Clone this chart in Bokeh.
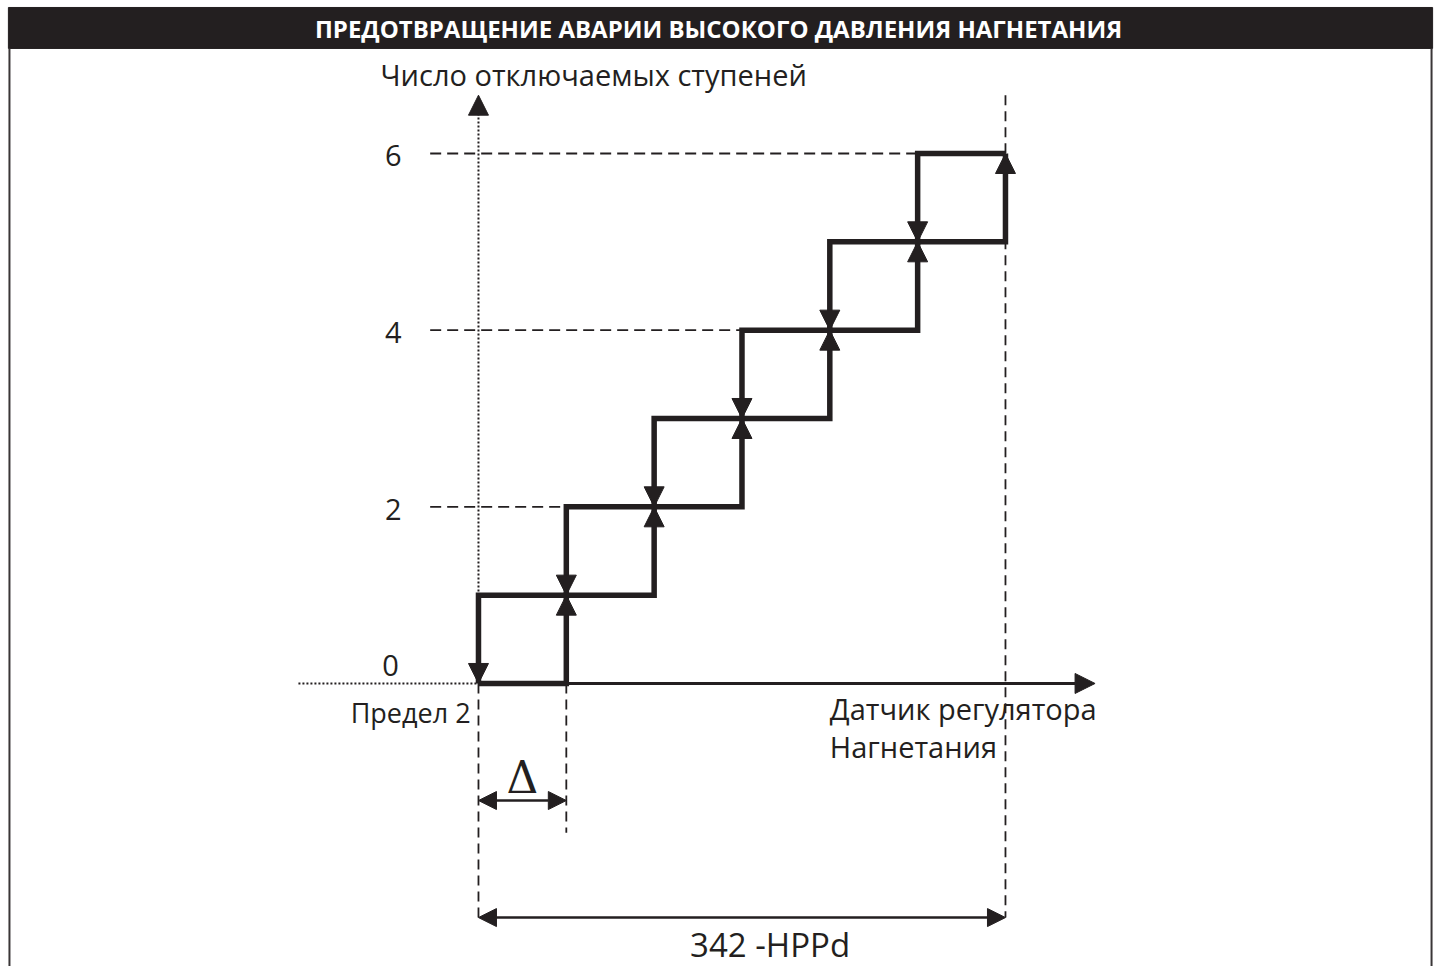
from bokeh.plotting import figure
from bokeh.models import Range1d, Arrow, NormalHead, ColumnDataSource
from bokeh.core.properties import value
from bokeh.embed import file_html
from bokeh.resources import INLINE

# ---------------- data ----------------
TITLE = "ПРЕДОТВРАЩЕНИЕ АВАРИИ ВЫСОКОГО ДАВЛЕНИЯ НАГНЕТАНИЯ"
Y_LABEL = "Число отключаемых ступеней"
X_LABEL = ["Датчик регулятора", "Нагнетания"]
LIMIT_LABEL = "Предел 2"
DELTA_LABEL = "Δ"
SPAN_LABEL = "342 -HPPd"
STAGES = [0, 1, 2, 3, 4, 5, 6]          # number of stages switched off
Y_TICKS = [0, 2, 4, 6]
Y_TICK_LABELS = ["0", "2", "4", "6"]
DELTA = 1                                # width of one step (Δ)

# ---------------- layout constants ----------------
INK = "#231f20"
FONT = "Open Sans"
X_AXIS_LEFT, X_AXIS_END = -2.05, 7.02
Y_AXIS_END = 6.66
GUIDE_LEFT = -0.55
DELTA_ARROW_Y = -1.325
SPAN_ARROW_Y = -2.65
FRAME_L, FRAME_R, HEAD_TOP, HEAD_BOT = -5.34, 10.851, 7.653, 7.189

p = figure(width=1435, height=966, output_backend="svg", toolbar_location=None,
           x_range=Range1d(-5.442, 10.896), y_range=Range1d(-3.204, 7.732),
           min_border=0, background_fill_color="white", border_fill_color="white")
p.axis.visible = False
p.grid.visible = False
p.outline_line_color = None

# header bar and frame
p.quad(left=[FRAME_L - 0.012], right=[FRAME_R + 0.012], top=[HEAD_TOP], bottom=[HEAD_BOT],
       fill_color=INK, line_color=INK)
p.segment(x0=[FRAME_L, FRAME_R], y0=[HEAD_BOT, HEAD_BOT], x1=[FRAME_L, FRAME_R], y1=[-4, -4],
          line_color="#3a3637", line_width=2)
p.text(x=[2.733], y=[7.415], text=[TITLE], text_color="white", text_font=value(FONT),
       text_font_style="bold", text_font_size="24px", text_align="center", text_baseline="middle")

top = STAGES[-1]
xmax = top * DELTA

# dashed guides at tick levels
for t in Y_TICKS[1:]:
    p.line(x=[GUIDE_LEFT, (t - 1) * DELTA], y=[t, t], line_color=INK, line_width=1.8, line_dash="11 6")

# vertical dashed lines
p.line(x=[0, 0], y=[0, SPAN_ARROW_Y], line_color=INK, line_width=1.8, line_dash="10 6")
p.line(x=[DELTA, DELTA], y=[0, -1.69], line_color=INK, line_width=1.8, line_dash="10 6")
p.line(x=[xmax, xmax], y=[Y_AXIS_END, SPAN_ARROW_Y], line_color=INK, line_width=1.8, line_dash="10 6")

# axes
p.line(x=[X_AXIS_LEFT, 0], y=[0, 0], line_color=INK, line_width=2, line_dash="2 2")
p.line(x=[0, 0], y=[0, Y_AXIS_END - 0.2], line_color=INK, line_width=2, line_dash="2 2")
p.add_layout(Arrow(end=NormalHead(size=20, fill_color=INK, line_color=INK),
                   x_start=0, y_start=Y_AXIS_END - 0.3, x_end=0, y_end=Y_AXIS_END,
                   line_alpha=0))
p.add_layout(Arrow(end=NormalHead(size=20, fill_color=INK, line_color=INK),
                   x_start=DELTA, y_start=0, x_end=X_AXIS_END, y_end=0,
                   line_color=INK, line_width=3))

# staircase (hysteresis)
up_x, up_y, dn_x, dn_y = [], [], [], []
for k in STAGES[:-1]:
    up_x += [k * DELTA, (k + 1) * DELTA]
    up_y += [k, k]
up_x.append(xmax); up_y.append(top)
for k in STAGES[:0:-1]:
    dn_x += [k * DELTA, (k - 1) * DELTA]
    dn_y += [k, k]
dn_x.append(0); dn_y.append(0)
p.line(x=up_x, y=up_y, line_color=INK, line_width=5.5, line_join="miter")
p.line(x=dn_x, y=dn_y, line_color=INK, line_width=5.5, line_join="miter")

up_src = ColumnDataSource(dict(x=[(k + 1) * DELTA for k in STAGES[:-1]],
                               y0=[k + 0.5 for k in STAGES[:-1]],
                               y1=[k + 1 for k in STAGES[:-1]]))
dn_src = ColumnDataSource(dict(x=[k * DELTA for k in STAGES[:-1]],
                               y0=[k + 0.5 for k in STAGES[:-1]],
                               y1=[k for k in STAGES[:-1]]))
for src in (up_src, dn_src):
    p.add_layout(Arrow(end=NormalHead(size=20, fill_color=INK, line_color=INK),
                       x_start="x", y_start="y0", x_end="x", y_end="y1",
                       line_alpha=0, source=src))

# dimension arrows
p.add_layout(Arrow(start=NormalHead(size=18, fill_color=INK, line_color=INK),
                   end=NormalHead(size=18, fill_color=INK, line_color=INK),
                   x_start=0, y_start=DELTA_ARROW_Y, x_end=DELTA, y_end=DELTA_ARROW_Y,
                   line_color=INK, line_width=2.5))
p.add_layout(Arrow(start=NormalHead(size=18, fill_color=INK, line_color=INK),
                   end=NormalHead(size=18, fill_color=INK, line_color=INK),
                   x_start=0, y_start=SPAN_ARROW_Y, x_end=xmax, y_end=SPAN_ARROW_Y,
                   line_color=INK, line_width=2.5))

# texts
p.text(x=[-1.0, -0.97, -0.97, -0.97], y=Y_TICKS, text=Y_TICK_LABELS, text_color=INK,
       text_font=value(FONT), text_font_size="29px", text_align="center",
       text_baseline="middle", y_offset=[-18, 3, 2, 2])
p.text(x=[-1.116], y=[6.895], text=[Y_LABEL], text_color=INK, text_font=value(FONT),
       text_font_size="29px", text_align="left", text_baseline="middle")
p.text(x=[-0.09], y=[-0.328], text=[LIMIT_LABEL], text_color=INK, text_font=value(FONT),
       text_font_size="27px", text_align="right", text_baseline="middle")
p.text(x=[4.0, 4.0], y=[-0.283, -0.713], text=X_LABEL, text_color=INK, text_font=value(FONT),
       text_font_size="29px", text_align="left", text_baseline="middle")
p.text(x=[DELTA / 2], y=[-1.06], text=[DELTA_LABEL], text_color=INK, text_font=value("DejaVu Serif"),
       text_font_size="44px", text_align="center", text_baseline="middle")
p.text(x=[3.32], y=[-2.955], text=[SPAN_LABEL], text_color=INK, text_font=value(FONT),
       text_font_size="33px", text_align="center", text_baseline="middle")

open("out.html", "w").write(file_html(p, INLINE))
